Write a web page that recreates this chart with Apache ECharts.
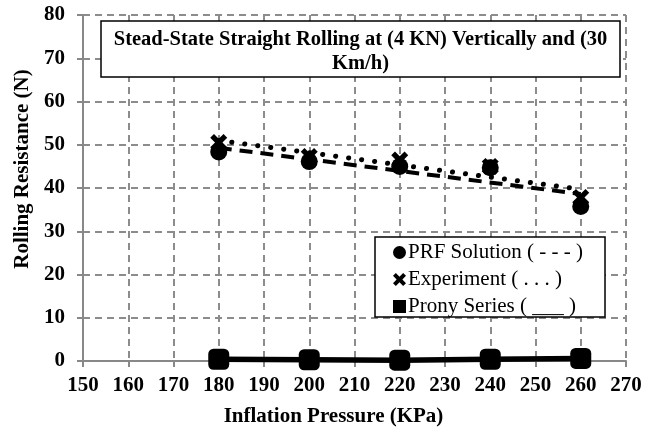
<!DOCTYPE html>
<html>
<head>
<meta charset="utf-8">
<script src="https://cdn.jsdelivr.net/npm/echarts@6/dist/echarts.min.js"></script>
<style>html,body{margin:0;padding:0;background:#fff}#c{width:656px;height:430px}</style>
</head>
<body>
<div id="c"></div>
<script>
var pressures = [180, 200, 220, 240, 260];
var prfSolution = [48.3, 46.1, 45.0, 44.7, 35.7];
var experiment = [50.5, 47.3, 46.5, 45.0, 37.8];
var pronySeries = [0.4, 0.3, 0.2, 0.4, 0.6];
var trendX = [180, 260];
var prfTrend = [49.3, 38.6];
var expTrend = [51.0, 39.7];
var xTicks = [150, 160, 170, 180, 190, 200, 210, 220, 230, 240, 250, 260, 270];
var yTicks = [0, 10, 20, 30, 40, 50, 60, 70, 80];
var seriesNames = ['PRF Solution ( - - - )', 'Experiment ( . . . )', 'Prony Series ( ___ )'];
var titleText = 'Stead-State Straight Rolling at (4 KN) Vertically and (30\nKm/h)';

function pairs(xs, ys) { return xs.map(function (x, i) { return [x, ys[i]]; }); }

var xMark = 'path://M0,2.2 L2.2,0 L5,2.8 L7.8,0 L10,2.2 L7.2,5 L10,7.8 L7.8,10 L5,7.2 L2.2,10 L0,7.8 L2.8,5 Z';
var serif = 'Liberation Serif';

var chart = echarts.init(document.getElementById('c'), null, { renderer: 'canvas' });
chart.setOption({
  animation: false,
  backgroundColor: '#fff',
  textStyle: { fontFamily: serif },
  grid: { left: 83, right: 30, top: 15, bottom: 69, containLabel: false, outerBoundsMode: 'none' },
  xAxis: {
    type: 'value', min: xTicks[0], max: xTicks[xTicks.length - 1], interval: 10,
    name: 'Inflation Pressure (KPa)', nameLocation: 'middle', nameGap: 45,
    nameTextStyle: { fontFamily: serif, fontWeight: 'bold', fontSize: 21, color: '#000', padding: [0, 42, 0, 0] },
    axisLine: { show: true, lineStyle: { color: '#888', width: 2 } },
    axisTick: { show: true, length: 6, lineStyle: { color: '#888', width: 2 } },
    axisLabel: { fontFamily: serif, fontWeight: 'bold', fontSize: 21, color: '#000', margin: 14 },
    splitLine: { show: true, lineStyle: { color: '#8c8c8c', width: 2, type: [7, 5] } }
  },
  yAxis: {
    type: 'value', min: yTicks[0], max: yTicks[yTicks.length - 1], interval: 10,
    name: 'Rolling Resistance (N)', nameLocation: 'middle', nameGap: 47, nameRotate: 90,
    nameTextStyle: { fontFamily: serif, fontWeight: 'bold', fontSize: 21, color: '#000', padding: [0, 0, 0, 38] },
    axisLine: { show: true, lineStyle: { color: '#888', width: 2 } },
    axisTick: { show: true, length: 6, lineStyle: { color: '#888', width: 2 } },
    axisLabel: { fontFamily: serif, fontWeight: 'bold', fontSize: 21, color: '#000', margin: 18 },
    splitLine: { show: true, lineStyle: { color: '#8c8c8c', width: 2, type: [7, 5] } }
  },
  legend: {
    data: seriesNames.map(function (n, i) {
      return { name: n, icon: i === 0 ? 'circle' : (i === 1 ? xMark : 'rect') };
    }),
    orient: 'vertical', left: 375, top: 237,
    itemWidth: 13, itemHeight: 13, itemGap: 6,
    padding: [5, 22, 0, 18],
    backgroundColor: '#fff', borderColor: '#000', borderWidth: 1.5, borderRadius: 0,
    textStyle: { fontFamily: serif, fontSize: 21, color: '#000', padding: [0, 0, 0, -3], lineHeight: 20 }
  },
  graphic: {
    elements: [
      { type: 'rect', x: 101, y: 21, z: 100, shape: { x: 0, y: 0, width: 519, height: 56 }, style: { fill: '#fff', stroke: '#000', lineWidth: 1.5 } },
      { type: 'text', x: 360.5, y: 28, z: 101, style: { text: titleText, fill: '#000', font: 'bold 20.5px Liberation Serif', align: 'center', verticalAlign: 'top', lineHeight: 24 } }
    ]
  },
  series: [
    {
      name: seriesNames[0] + ' trend', type: 'line', data: pairs(trendX, prfTrend), symbol: 'none', z: 3,
      lineStyle: { color: '#000', width: 4, type: [13, 8] }
    },
    {
      name: seriesNames[1] + ' trend', type: 'line', data: pairs(trendX, expTrend), symbol: 'none', z: 3,
      lineStyle: { color: '#000', width: 5, type: [0.1, 13], cap: 'round' }
    },
    {
      name: seriesNames[0], type: 'line', data: pairs(pressures, prfSolution), z: 5,
      symbol: 'circle', symbolSize: 17, itemStyle: { color: '#000' }, lineStyle: { width: 0, opacity: 0 }
    },
    {
      name: seriesNames[1], type: 'line', data: pairs(pressures, experiment), z: 5,
      symbol: xMark, symbolSize: 17, itemStyle: { color: '#000' }, lineStyle: { width: 0, opacity: 0 }
    },
    {
      name: seriesNames[2], type: 'line', data: pairs(pressures, pronySeries), z: 5,
      symbol: 'roundRect', symbolSize: 21, itemStyle: { color: '#000' }, lineStyle: { color: '#000', width: 5.5 }
    }
  ]
});
</script>
</body>
</html>
